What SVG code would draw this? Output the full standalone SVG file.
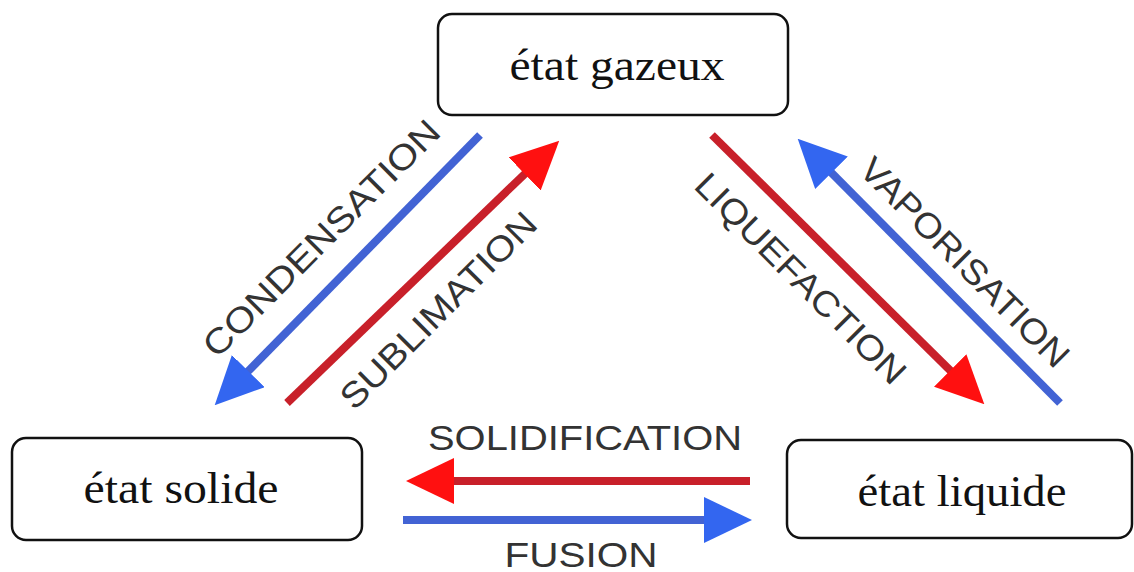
<svg xmlns="http://www.w3.org/2000/svg" width="1134" height="572" viewBox="0 0 1134 572">
<style>
.box{fill:#fff;stroke:#111;stroke-width:2.5}
.nt{font-family:"Liberation Serif","Times New Roman",serif;font-size:44px;fill:#111;text-anchor:middle}
.lb{font-family:"Liberation Sans",Arial,sans-serif;font-size:35px;fill:#333;text-anchor:middle}
.red{stroke:#c8202a;stroke-width:8;fill:none}
.blue{stroke:#4263d4;stroke-width:8;fill:none}
</style>
<defs>
<marker id="hr" markerUnits="userSpaceOnUse" viewBox="0 0 48 46" markerWidth="48" markerHeight="46" refX="1" refY="23" orient="auto"><path d="M0,0 L48,23 L0,46 z" fill="#ff1010"/></marker>
<marker id="hb" markerUnits="userSpaceOnUse" viewBox="0 0 48 46" markerWidth="48" markerHeight="46" refX="1" refY="23" orient="auto"><path d="M0,0 L48,23 L0,46 z" fill="#3366f0"/></marker>
</defs>
<rect width="1134" height="572" fill="#fff"/>
<g id="gazeux"><rect class="box" x="438" y="14" width="350" height="101" rx="14"/><text class="nt" x="617" y="80" textLength="215" lengthAdjust="spacingAndGlyphs">état gazeux</text></g>
<g id="solide"><rect class="box" x="12" y="438" width="350" height="102" rx="14"/><text class="nt" x="181" y="503" textLength="195" lengthAdjust="spacingAndGlyphs">état solide</text></g>
<g id="liquide"><rect class="box" x="787" y="440" width="345" height="98" rx="14"/><text class="nt" x="962" y="506" textLength="209" lengthAdjust="spacingAndGlyphs">état liquide</text></g>
<g id="connectors">
<line class="blue" x1="480" y1="135" x2="247.6" y2="371.8" marker-end="url(#hb)"/>
<line class="red" x1="287" y1="403" x2="525.4" y2="173.3" marker-end="url(#hr)"/>
<line class="red" x1="712" y1="135" x2="950.9" y2="371.2" marker-end="url(#hr)"/>
<line class="blue" x1="1060" y1="403" x2="830.8" y2="172.1" marker-end="url(#hb)"/>
<line class="red" x1="750" y1="481" x2="453" y2="481" marker-end="url(#hr)"/>
<line class="blue" x1="403" y1="520" x2="705" y2="520" marker-end="url(#hb)"/>
<g transform="translate(321,238) rotate(-45)"><text class="lb" x="0" y="12.5" textLength="319" lengthAdjust="spacingAndGlyphs">CONDENSATION</text></g>
<g transform="translate(438,310) rotate(-45)"><text class="lb" x="0" y="12.5" textLength="262" lengthAdjust="spacingAndGlyphs">SUBLIMATION</text></g>
<g transform="translate(801,278) rotate(45)"><text class="lb" x="0" y="12.5" textLength="282" lengthAdjust="spacingAndGlyphs">LIQUEFACTION</text></g>
<g transform="translate(965,262) rotate(45)"><text class="lb" x="0" y="12.5" textLength="280" lengthAdjust="spacingAndGlyphs">VAPORISATION</text></g>
<text class="lb" x="585" y="450" textLength="314" lengthAdjust="spacingAndGlyphs">SOLIDIFICATION</text>
<text class="lb" x="581" y="567" textLength="153" lengthAdjust="spacingAndGlyphs">FUSION</text>
</g>
</svg>
